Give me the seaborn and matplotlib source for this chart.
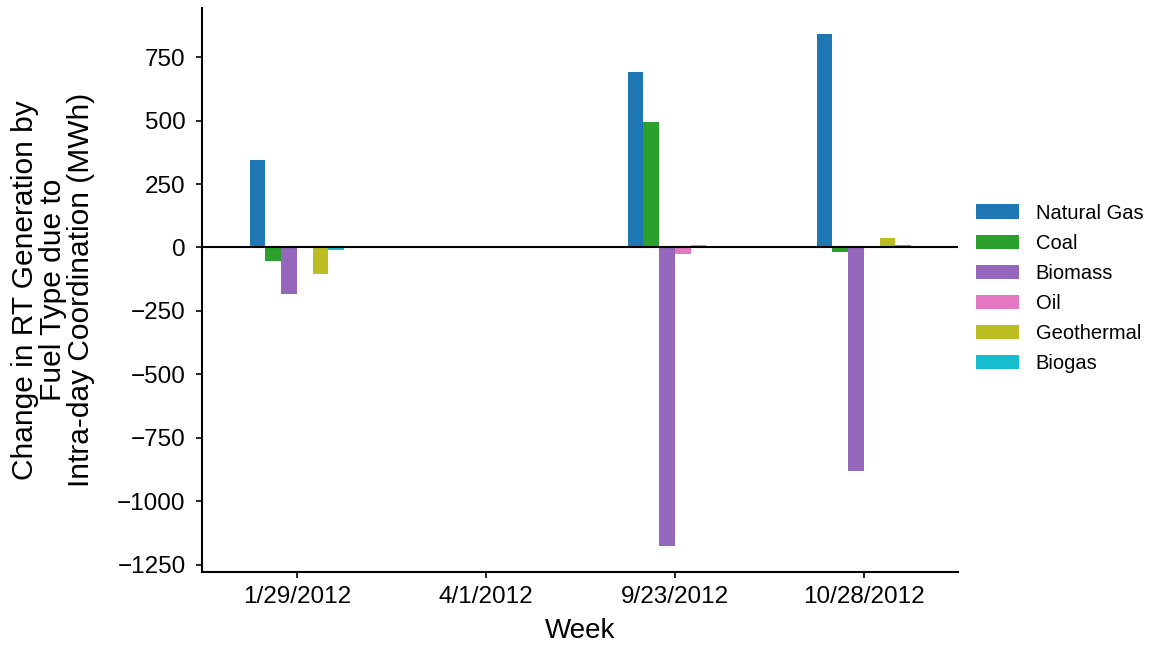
import matplotlib
matplotlib.use("Agg")
import matplotlib.pyplot as plt
import seaborn as sns
import pandas as pd

weeks = ["1/29/2012", "4/1/2012", "9/23/2012", "10/28/2012"]
fuels = ["Natural Gas", "Coal", "Biomass", "Oil", "Geothermal", "Biogas"]
natural_gas = [345, 0, 690, 842]
coal = [-55, 0, 495, -18]
biomass = [-183, 0, -1177, -881]
oil = [0, 0, -25, 0]
geothermal = [-106, 0, 10, 37]
biogas = [-10, 0, 0, 9]
colors = ["#1f77b4", "#2ca02c", "#9467bd", "#e377c2", "#bcbd22", "#17becf"]

series = [natural_gas, coal, biomass, oil, geothermal, biogas]
rows = []
for fuel, vals in zip(fuels, series):
    for wk, v in zip(weeks, vals):
        rows.append({"Week": wk, "Fuel": fuel, "Value": v})
df = pd.DataFrame(rows)

sns.set_style("ticks")
plt.rcParams["font.family"] = ["Liberation Sans", "DejaVu Sans"]
plt.rcParams["text.color"] = "black"
plt.rcParams["axes.labelcolor"] = "black"

fig = plt.figure(figsize=(11.56, 6.45), dpi=100)
ax = fig.add_axes([0.175, 0.113, 0.654, 0.875])

sns.barplot(data=df, x="Week", y="Value", hue="Fuel", order=weeks,
            hue_order=fuels, palette=colors, width=0.5, ax=ax,
            errorbar=None, saturation=1, linewidth=0)

ax.axhline(0, color="black", linewidth=1.5, zorder=5)
ax.set_xlim(-0.5, 3.5)
ax.set_ylim(-1280, 945)
ax.set_yticks([-1250, -1000, -750, -500, -250, 0, 250, 500, 750])
ax.tick_params(axis="both", labelsize=17.5, length=4, width=1.2,
               colors="black", labelcolor="black")
ax.tick_params(axis="y", pad=8)
ax.tick_params(axis="x", pad=6)
for s in ["left", "bottom"]:
    ax.spines[s].set_linewidth(1.5)
    ax.spines[s].set_color("black")
sns.despine(ax=ax)

ax.set_xlabel("Week", fontsize=20, labelpad=7)
ax.set_ylabel("Change in RT Generation by\nFuel Type due to\nIntra-day Coordination (MWh)",
              fontsize=21.5, linespacing=1.0, labelpad=16)

ax.legend(title=None, frameon=False, loc="center left",
          bbox_to_anchor=(1.0, 0.503), fontsize=14.5,
          handlelength=2.1, handleheight=0.7, labelspacing=0.55,
          handletextpad=0.85)

fig.savefig("out.png", dpi=100)
